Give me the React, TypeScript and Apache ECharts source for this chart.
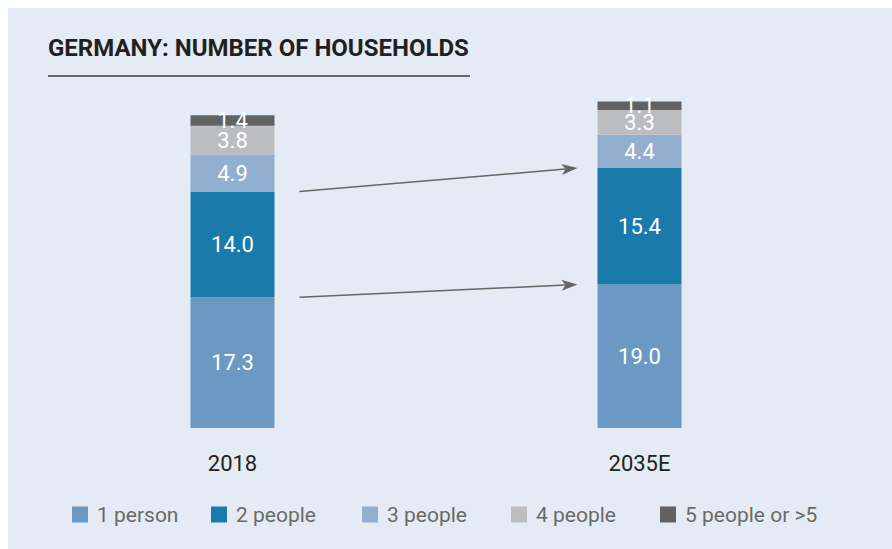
import React, { useEffect, useRef } from "react";
import * as echarts from "echarts";

const categories = ["2018", "2035E"];
const seriesNames = ["1 person", "2 people", "3 people", "4 people", "5 people or >5"];
const onePerson = [17.3, 19.0];
const twoPeople = [14.0, 15.4];
const threePeople = [4.9, 4.4];
const fourPeople = [3.8, 3.3];
const fivePlus = [1.4, 1.1];
const seriesValues = [onePerson, twoPeople, threePeople, fourPeople, fivePlus];
const colors = ["#6b99c3", "#1a7aab", "#92afd0", "#bcbdc0", "#626264"];
const titleText = "GERMANY: NUMBER OF HOUSEHOLDS";
const legendLefts = [64, 203, 354, 503, 652];

const FONT = "Roboto, 'Noto Sans', sans-serif";
const BAR_WIDTH = 84;

export default function App() {
  const ref = useRef<HTMLDivElement>(null);

  useEffect(() => {
    if (!ref.current) return;
    const chart = echarts.init(ref.current, undefined, { renderer: "svg" });

    const series = seriesNames.map((name, i) => ({
      name,
      type: "bar",
      stack: "total",
      barWidth: BAR_WIDTH,
      data: seriesValues[i],
      itemStyle: { color: colors[i] },
      label: {
        show: true,
        position: "inside",
        color: "#ffffff",
        fontSize: 22,
        fontFamily: FONT,
        formatter: (p: any) => Number(p.value).toFixed(1),
      },
      emphasis: { disabled: true },
    }));

    const legends = seriesNames.map((name, i) => ({
      data: [name],
      left: legendLefts[i],
      top: 496,
      padding: 0,
      itemWidth: 16,
      itemHeight: 16,
      icon: "rect",
      selectedMode: false,
      textStyle: { fontSize: 21, color: "#6a6a6a", fontFamily: FONT, padding: [0, 0, 0, 4] },
    }));

    chart.setOption({
      animation: false,
      backgroundColor: "#e4ebf4",
      grid: { left: 21, right: 49, top: 80, height: 340 },
      xAxis: {
        type: "category",
        data: categories,
        axisLine: { show: false },
        axisTick: { show: false },
        axisLabel: { fontSize: 22, color: "#222222", fontFamily: FONT, margin: 24 },
      },
      yAxis: { type: "value", min: 0, max: 45, show: false, splitLine: { show: false } },
      legend: legends,
      series,
    });

    const cum = (idx: number, upto: number) =>
      seriesValues.slice(0, upto + 1).reduce((s, arr) => s + arr[idx], 0);

    const arrows: any[] = [];
    [1, 0].forEach((level) => {
      const p0 = chart.convertToPixel({ xAxisIndex: 0, yAxisIndex: 0 }, [0, cum(0, level)]) as number[];
      const p1 = chart.convertToPixel({ xAxisIndex: 0, yAxisIndex: 0 }, [1, cum(1, level)]) as number[];
      const x1 = p0[0] + BAR_WIDTH / 2 + 25;
      const y1 = p0[1];
      const x2 = p1[0] - BAR_WIDTH / 2 - 20;
      const y2 = p1[1];
      const dx = x2 - x1;
      const dy = y2 - y1;
      const len = Math.sqrt(dx * dx + dy * dy);
      const ux = dx / len;
      const uy = dy / len;
      const nx = -uy;
      const ny = ux;
      const headLen = 16;
      const headHalf = 5.5;
      const notch = 12;
      const bx = x2 - ux * headLen;
      const by = y2 - uy * headLen;
      arrows.push({
        type: "line",
        shape: { x1, y1, x2: x2 - ux * notch, y2: y2 - uy * notch },
        style: { stroke: "#666666", lineWidth: 1.5 },
        silent: true,
      });
      arrows.push({
        type: "polygon",
        shape: {
          points: [
            [x2, y2],
            [bx + nx * headHalf, by + ny * headHalf],
            [x2 - ux * notch, y2 - uy * notch],
            [bx - nx * headHalf, by - ny * headHalf],
          ],
        },
        style: { fill: "#666666" },
        silent: true,
      });
    });

    chart.setOption({
      graphic: [
        {
          type: "text",
          left: 40,
          top: 28,
          style: {
            text: titleText,
            fontSize: 24,
            fontWeight: "bold",
            fontFamily: FONT,
            fill: "#231f20",
          },
          silent: true,
        },
        {
          type: "line",
          shape: { x1: 40, y1: 68, x2: 462, y2: 68 },
          style: { stroke: "#3a3a3a", lineWidth: 1.5 },
          silent: true,
        },
        ...arrows,
      ],
    });

    return () => chart.dispose();
  }, []);

  return (
    <div
      style={{
        position: "fixed",
        left: 0,
        top: 0,
        width: 892,
        height: 549,
        overflow: "hidden",
        background: "#ffffff",
      }}
    >
      <div ref={ref} style={{ position: "absolute", left: 8, top: 8, width: 884, height: 541 }} />
    </div>
  );
}
